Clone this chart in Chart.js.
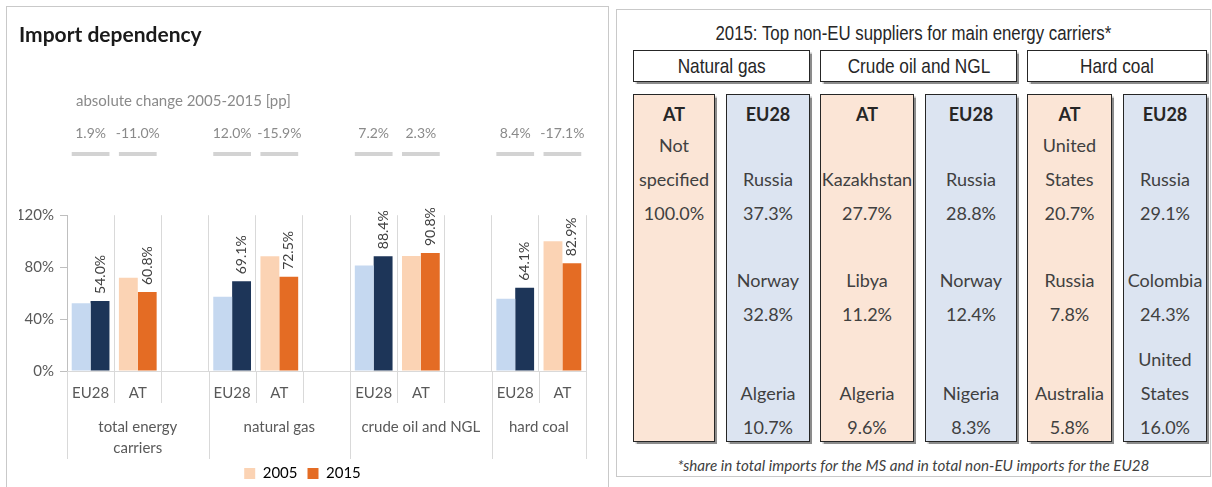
<!DOCTYPE html>
<html>
<head>
<meta charset="utf-8">
<script src="https://cdn.jsdelivr.net/npm/chart.js@4.4.1/dist/chart.umd.min.js"></script>
<style>
    body { margin: 0; width: 1212px; height: 487px; position: relative; overflow: hidden; background: #fff; font-family: Lato, sans-serif; }
    #left { position: absolute; left: 6px; top: 6px; width: 603px; height: 490px; border: 1px solid #c9c9c9; box-sizing: border-box; }
    #chartBox { position: absolute; left: 6px; top: 6px; width: 602px; height: 485px; }
    #right { position: absolute; left: 616px; top: 9px; width: 595px; height: 468px; border: 1px solid #c9c9c9; box-sizing: border-box; }
    .narrow { font-family: "Liberation Sans", sans-serif; color: #262626; }
    .narrow span { display: inline-block; transform: scaleX(0.82); transform-origin: center; white-space: nowrap; }
    #rtitle { position: absolute; left: 616px; width: 595px; top: 21px; text-align: center; font-size: 20.5px; line-height: 24px; }
    .carrier { position: absolute; top: 50px; height: 32px; border: 1.5px solid #262626; box-shadow: 1.5px 1.5px 1px rgba(0,0,0,0.45); box-sizing: border-box; text-align: center; font-size: 21px; line-height: 29px; background: #fff; }
    .col { position: absolute; top: 94px; height: 348px; border: 1.5px solid #262626; box-shadow: 1.5px 1.5px 1px rgba(0,0,0,0.45); box-sizing: border-box; text-align: center; color: #404040; font-size: 18px; line-height: 34px; }
    .col .who { position: absolute; left: 0; right: 0; top: 2px; font-weight: bold; color: #262626; }
    .col .entry { position: absolute; left: 0; right: 0; white-space: pre-line; }
    #foot { position: absolute; left: 616px; width: 595px; top: 455px; text-align: center; font-style: italic; font-size: 15.2px; line-height: 20px; color: #404040; }
</style>
</head>
<body>
<div id="left"></div>
<div id="chartBox"><canvas id="chartImport"></canvas></div>
<div id="right"></div>
<div id="rtitle" class="narrow"><span>2015: Top non-EU suppliers for main energy carriers*</span></div>
<div id="foot">*share in total imports for the MS and in total non-EU imports for the EU28</div>
<script>
// --- datos del gráfico de barras ---
const grupos = [['total energy', 'carriers'], ['natural gas'], ['crude oil and NGL'], ['hard coal']];
const paises = ['EU28', 'AT'];
const eu2005 = [52.1, 57.1, 81.2, 55.7];
const eu2015 = [54.0, 69.1, 88.4, 64.1];
const at2005 = [71.8, 88.4, 88.5, 100.0];
const at2015 = [60.8, 72.5, 90.8, 82.9];
const cambioEu = ['1.9%', '12.0%', '7.2%', '8.4%'];
const cambioAt = ['-11.0%', '-15.9%', '2.3%', '-17.1%'];
const yTicks = [0, 40, 80, 120];

// --- datos de la tabla de proveedores ---
const portadores = ['Natural gas', 'Crude oil and NGL', 'Hard coal'];
const atNombres = [['Not\nspecified'], ['Kazakhstan', 'Libya', 'Algeria'], ['United\nStates', 'Russia', 'Australia']];
const atCuotas = [['100.0%'], ['27.7%', '11.2%', '9.6%'], ['20.7%', '7.8%', '5.8%']];
const euNombres = [['Russia', 'Norway', 'Algeria'], ['Russia', 'Norway', 'Nigeria'], ['Russia', 'Colombia', 'United\nStates']];
const euCuotas = [['37.3%', '32.8%', '10.7%'], ['28.8%', '12.4%', '8.3%'], ['29.1%', '24.3%', '16.0%']];

const colores = {
    eu2005: '#c5d8f0', eu2015: '#1d3558',
    at2005: '#fbd3b4', at2015: '#e46c24'
};

// construir las 11 posiciones del eje x (con hueco entre grupos)
const etiquetas = [], v2005 = [], v2015 = [], col2005 = [], col2015 = [], cambios = [];
const limitesGrupo = [0];
grupos.forEach((g, i) => {
    etiquetas.push(paises[0], paises[1]);
    v2005.push(eu2005[i], at2005[i]);
    v2015.push(eu2015[i], at2015[i]);
    col2005.push(colores.eu2005, colores.at2005);
    col2015.push(colores.eu2015, colores.at2015);
    cambios.push(cambioEu[i], cambioAt[i]);
    if (i < grupos.length - 1) {
        etiquetas.push('');
        v2005.push(null); v2015.push(null);
        col2005.push(null); col2015.push(null);
        cambios.push(null);
    }
    limitesGrupo.push(etiquetas.length);
});

const decorado = {
    id: 'decorado',
    afterDraw(chart) {
        const { ctx, chartArea, scales: { x } } = chart;
        const ancho = x.width / etiquetas.length;
        ctx.save();

        // subtítulo y cambios absolutos
        ctx.fillStyle = '#8a8a8a';
        ctx.font = '15px Lato';
        ctx.textBaseline = 'middle';
        ctx.textAlign = 'left';
        ctx.fillText('absolute change 2005-2015 [pp]', 70, 95);
        ctx.font = '14px Lato';
        cambios.forEach((c, i) => {
            if (c === null) return;
            const cx = x.getPixelForValue(i);
            ctx.fillStyle = '#8a8a8a';
            ctx.textAlign = 'center';
            ctx.fillText(c, cx, 127);
            ctx.fillStyle = '#d3d3d3';
            ctx.fillRect(cx - ancho * 0.4, 146, ancho * 0.8, 4);
        });

        // separadores bajo el eje
        ctx.strokeStyle = '#d9d9d9';
        ctx.lineWidth = 1;
        for (let i = 0; i <= etiquetas.length; i++) {
            const bx = Math.round(chartArea.left + i * ancho) + 0.5;
            const largo = limitesGrupo.includes(i) ? 88 : 32;
            ctx.beginPath();
            ctx.moveTo(bx, chartArea.bottom);
            ctx.lineTo(bx, chartArea.bottom + largo);
            ctx.stroke();
        }

        // nombres de grupo
        ctx.fillStyle = '#595959';
        ctx.font = '15px Lato';
        ctx.textAlign = 'center';
        grupos.forEach((g, i) => {
            const cx = chartArea.left + (limitesGrupo[i] + limitesGrupo[i + 1]) / 2 * ancho;
            g.forEach((linea, j) => ctx.fillText(linea, cx, chartArea.bottom + 56 + j * 21));
        });

        // etiquetas de 2015 giradas
        ctx.fillStyle = '#404040';
        ctx.font = '14px Lato';
        ctx.textAlign = 'left';
        chart.getDatasetMeta(1).data.forEach((bar, i) => {
            if (v2015[i] === null) return;
            ctx.save();
            ctx.translate(bar.x, bar.y - 7);
            ctx.rotate(-Math.PI / 2);
            ctx.fillText(v2015[i].toFixed(1) + '%', 0, 0);
            ctx.restore();
        });
        ctx.restore();
    }
};

new Chart(document.getElementById('chartImport'), {
    type: 'bar',
    data: {
        labels: etiquetas,
        datasets: [
            { label: '2005', data: v2005, backgroundColor: col2005, categoryPercentage: 0.8, barPercentage: 1 },
            { label: '2015', data: v2015, backgroundColor: col2015, categoryPercentage: 0.8, barPercentage: 1 }
        ]
    },
    options: {
        responsive: true,
        maintainAspectRatio: false,
        animation: false,
        layout: { padding: { left: 13, right: 22, top: 0, bottom: 0 } },
        plugins: {
            tooltip: { enabled: false },
            title: {
                display: true,
                text: 'Import dependency',
                align: 'start',
                color: '#1a1a1a',
                font: { family: 'Lato', size: 21, weight: 'bold' },
                padding: { top: 17, bottom: 167 }
            },
            legend: {
                position: 'bottom',
                labels: {
                    boxWidth: 11,
                    boxHeight: 11,
                    color: '#404040',
                    font: { family: 'Lato', size: 15 },
                    generateLabels: () => [
                        { text: '2005', fillStyle: colores.at2005, strokeStyle: colores.at2005, lineWidth: 0 },
                        { text: '2015', fillStyle: colores.at2015, strokeStyle: colores.at2015, lineWidth: 0 }
                    ]
                }
            }
        },
        scales: {
            x: {
                grid: { color: '#d9d9d9', drawTicks: false, offset: true },
                border: { color: '#d9d9d9' },
                ticks: { color: '#595959', font: { family: 'Lato', size: 15 }, padding: 13, autoSkip: false, maxRotation: 0 },
                afterFit: (s) => { s.height = 85; }
            },
            y: {
                min: 0,
                max: yTicks[yTicks.length - 1],
                afterBuildTicks: (s) => { s.ticks = yTicks.map(v => ({ value: v })); },
                grid: { drawOnChartArea: false, color: '#bfbfbf', tickLength: 7 },
                border: { color: '#bfbfbf' },
                ticks: { color: '#595959', font: { family: 'Lato', size: 15 }, padding: 6, callback: v => v + '%' },
                afterFit: (s) => { s.width = 48; }
            }
        }
    },
    plugins: [decorado]
});

// --- tabla de proveedores ---
const cajasPortador = [[633, 810], [820, 1017], [1027, 1207]];
const cajasAt = [[633, 715], [820, 914], [1027, 1112]];
const cajasEu = [[726, 810], [925, 1017], [1123, 1207]];
const finEntrada = [135, 236, 349];

function caja(cls, x0, x1) {
    const d = document.createElement('div');
    d.className = cls;
    d.style.left = x0 + 'px';
    d.style.width = (x1 - x0) + 'px';
    document.body.appendChild(d);
    return d;
}

function columna(x, quien, nombres, cuotas, fondo) {
    const d = caja('col', x[0], x[1]);
    d.style.background = fondo;
    const w = document.createElement('div');
    w.className = 'who';
    w.textContent = quien;
    d.appendChild(w);
    nombres.forEach((n, k) => {
        const e = document.createElement('div');
        e.className = 'entry';
        e.style.top = (finEntrada[k] - 34 * (n.split('\n').length + 1)) + 'px';
        e.textContent = n + '\n' + cuotas[k];
        d.appendChild(e);
    });
}

portadores.forEach((p, i) => {
    const c = caja('carrier narrow', cajasPortador[i][0], cajasPortador[i][1]);
    const s = document.createElement('span');
    s.textContent = p;
    c.appendChild(s);
    columna(cajasAt[i], 'AT', atNombres[i], atCuotas[i], '#fbe5d6');
    columna(cajasEu[i], 'EU28', euNombres[i], euCuotas[i], '#dce4f1');
});
</script>
</body>
</html>
